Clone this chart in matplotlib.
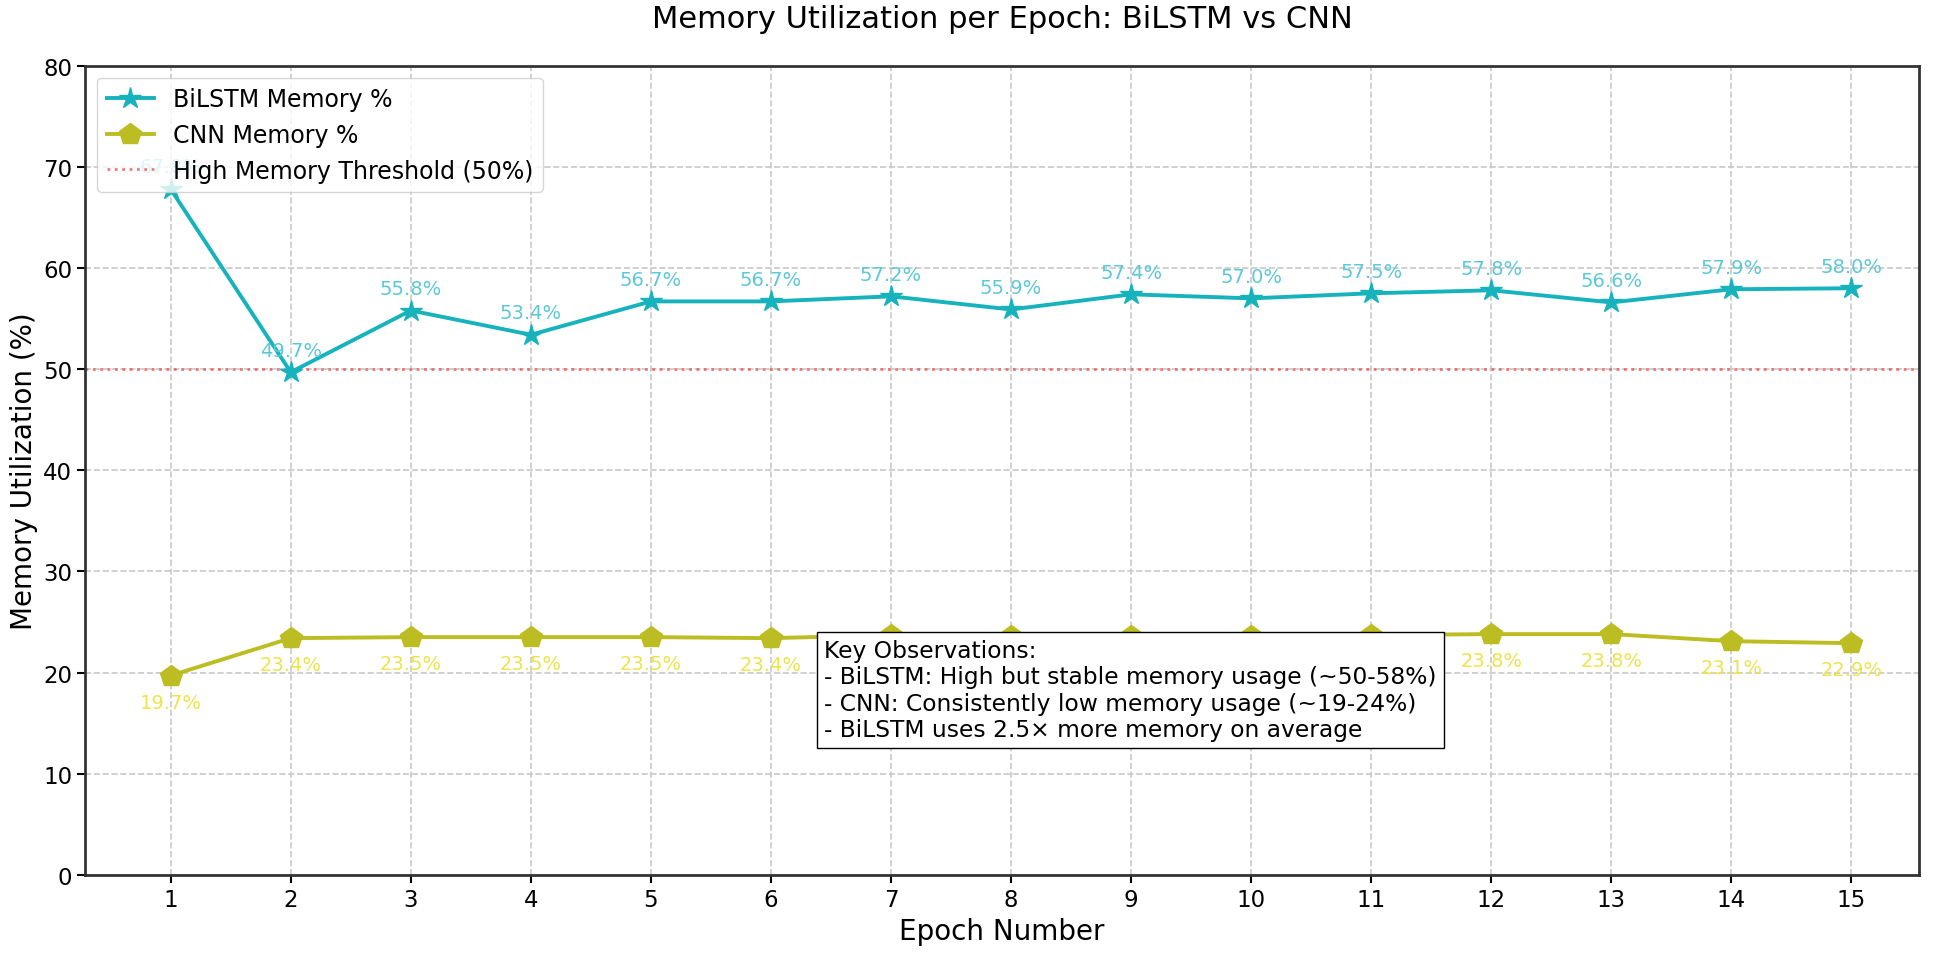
import numpy as np
from matplotlib import pyplot as plt

epochs = list(range(1, 16))
bilstm_mem = [67.8, 49.7, 55.8, 53.4, 56.7, 56.7, 57.2, 55.9, 57.4, 57.0, 57.5, 57.8, 56.6, 57.9, 58.0]
cnn_mem = [19.7, 23.4, 23.5, 23.5, 23.5, 23.4, 23.7, 23.6, 23.6, 23.6, 23.7, 23.8, 23.8, 23.1, 22.9]
threshold = 50

notes = ("Key Observations:\n"
         "- BiLSTM: High but stable memory usage (~50-58%)\n"
         "- CNN: Consistently low memory usage (~19-24%)\n"
         "- BiLSTM uses 2.5\u00d7 more memory on average")


def main():
    fig, ax = plt.subplots(figsize=(19.42, 9.54), dpi=100)
    fig.subplots_adjust(left=0.044, right=0.988, top=0.93, bottom=0.082)

    ax.plot(epochs, bilstm_mem, color="#17b3bd", marker="*", markersize=16,
            linewidth=2.8, label="BiLSTM Memory %", zorder=3)
    ax.plot(epochs, cnn_mem, color="#bcbd22", marker="p", markersize=16,
            linewidth=2.8, label="CNN Memory %", zorder=3)
    ax.axhline(threshold, color="#e85a5a", linestyle=":", linewidth=2,
               alpha=0.8, label="High Memory Threshold (50%)")

    for x, y in zip(epochs, bilstm_mem):
        ax.annotate("%.1f%%" % y, (x, y), xytext=(0, 12), textcoords="offset points",
                    ha="center", fontsize=14, color="#5cc8d8")
    for x, y in zip(epochs, cnn_mem):
        ax.annotate("%.1f%%" % y, (x, y), xytext=(0, -23), textcoords="offset points",
                    ha="center", fontsize=14, color="#eee34c")

    ax.set_xlim(0.29, 15.56)
    ax.set_ylim(0, 80)
    ax.set_xticks(epochs)
    ax.tick_params(labelsize=16.5, width=1.5, length=6)
    for s in ax.spines.values():
        s.set_linewidth(2)
        s.set_color("#333333")
    ax.set_xlabel("Epoch Number", fontsize=20)
    ax.set_ylabel("Memory Utilization (%)", fontsize=20)
    ax.set_title("Memory Utilization per Epoch: BiLSTM vs CNN", fontsize=22, pad=28)
    ax.grid(True, linestyle="--", color="#c8c8c8", linewidth=1.2)

    ax.legend(loc="upper left", fontsize=17, framealpha=0.8)
    ax.text(0.403, 0.292, notes, transform=ax.transAxes, fontsize=16.8,
            va="top", ha="left", zorder=5,
            bbox=dict(boxstyle="square,pad=0.3", facecolor="white", edgecolor="black"))

    plt.savefig("out.png")


if __name__ == "__main__":
    main()
